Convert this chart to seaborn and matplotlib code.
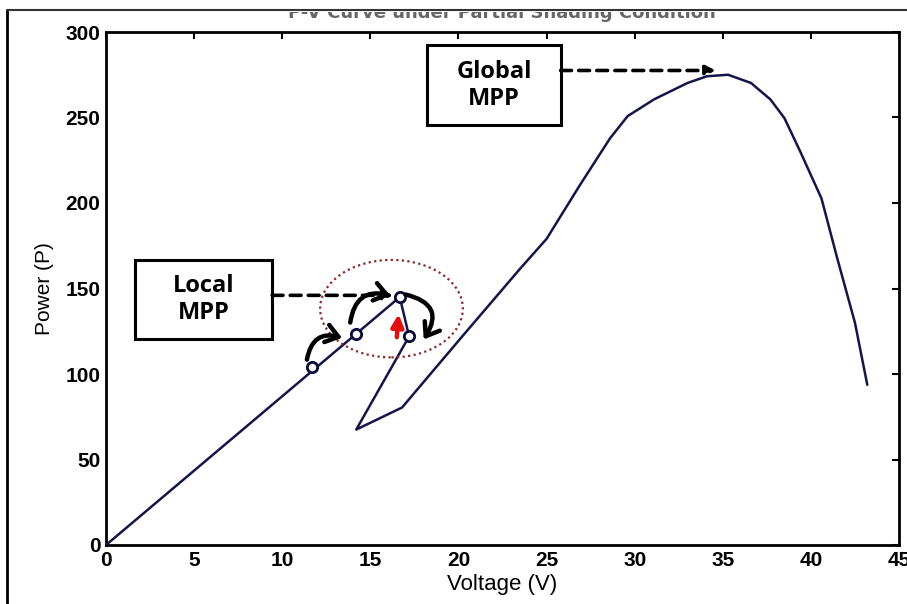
import matplotlib
matplotlib.use("Agg")
import matplotlib.pyplot as plt
import seaborn as sns
import pandas as pd
from matplotlib.patches import Ellipse, Rectangle, FancyArrowPatch

# ---- data ----
title = "P-V Curve under Partial Shading Condition"
voltage = [0, 16.67, 17.2, 14.2, 16.8, 20.1, 23.5, 25.0, 26.9, 28.6, 29.6, 31.1, 33.0,
           34.1, 35.3, 36.6, 37.7, 38.5, 39.4, 40.6, 41.5, 42.5, 43.2]
power = [0, 145, 122, 67.5, 80.4, 120.6, 161.6, 179, 210.6, 237.8, 250.8, 260.6, 270.2,
         274.1, 275, 270.2, 260.6, 249.6, 230, 202.7, 167.5, 130, 93.7]
track_v = [11.7, 14.2, 16.67, 17.2]
track_p = [103.9, 123.5, 145, 122]
x_ticks = [0, 5, 10, 15, 20, 25, 30, 35, 40, 45]
y_ticks = [0, 50, 100, 150, 200, 250, 300]

sns.set_style("white")
tick_font = ["Liberation Sans", "DejaVu Sans"]
plt.rcParams["font.family"] = ["Liberation Sans", "DejaVu Sans"]
plt.rcParams["text.color"] = "black"
plt.rcParams["axes.labelcolor"] = "black"

fig = plt.figure(figsize=(9.07, 6.04), dpi=100)
ax = fig.add_axes([106/907, 1-545/604, (899-106)/907, (545-32)/604])

df = pd.DataFrame({"V": voltage, "P": power})
sns.lineplot(data=df, x="V", y="P", sort=False, ax=ax, color="#15154a", lw=1.8, zorder=3)
tdf = pd.DataFrame({"V": track_v, "P": track_p})
sns.scatterplot(data=tdf, x="V", y="P", ax=ax, s=55, facecolor="white",
                edgecolor="#0a0a3a", linewidth=2, zorder=6)

ax.set_xlim(0, 45)
ax.set_ylim(0, 300)
ax.set_xticks(x_ticks)
ax.set_yticks(y_ticks)
ax.set_xticklabels([str(t) for t in x_ticks], family=tick_font, fontsize=15, fontweight="bold")
ax.set_yticklabels([str(t) for t in y_ticks], family=tick_font, fontsize=15, fontweight="bold")
ax.tick_params(direction="in", length=5, width=1.5, top=True, right=True, pad=4,
               colors="black", labelcolor="black")
for s in ax.spines.values():
    s.set_linewidth(2)
    s.set_color("black")
ax.set_xlabel("Voltage (V)", family=tick_font, fontsize=16, labelpad=3, color="black")
ax.set_ylabel("Power (P)", family=tick_font, fontsize=15, labelpad=8, color="black")

# dotted ellipse around local MPP
ax.add_patch(Ellipse((16.2, 138.2), 8.1, 57, fill=False, ls=(0, (1, 1.5)),
                     lw=1.6, ec="#8b2a2a", zorder=4))

# boxes
for (x0, x1, y0, y1, txt) in [(1.65, 9.43, 120.2, 166.6, "Local\nMPP"),
                              (18.24, 25.8, 245.5, 292.2, "Global\nMPP")]:
    ax.add_patch(Rectangle((x0, y0), x1-x0, y1-y0, fill=True, fc="white",
                           ec="black", lw=2.2, zorder=5))
    ax.text((x0+x1)/2, (y0+y1)/2, txt, ha="center", va="center", fontsize=17,
            fontweight="bold", color="black", family=["Open Sans", "DejaVu Sans"],
            linespacing=1.15, zorder=6)

# dashed arrows
for (xs, xe, y) in [(9.43, 16.3, 146), (25.8, 34.6, 277.5)]:
    ax.annotate("", xy=(xe, y), xytext=(xs, y),
                arrowprops=dict(arrowstyle="-|>", lw=2.6, ls=(0, (3, 2)), color="black",
                                mutation_scale=14, shrinkA=0, shrinkB=0), zorder=7)

# curved tracking arrows
for (p0, p1, rad) in [((11.4, 108.4), (13.4, 121.1), -0.55),
                      ((13.86, 130.1), (16.14, 145.8), -0.55),
                      ((16.99, 146.5), (18.03, 120.2), -0.7)]:
    ax.add_patch(FancyArrowPatch(p0, p1, connectionstyle=f"arc3,rad={rad}",
                                 arrowstyle="->,head_length=0.55,head_width=0.4",
                                 mutation_scale=16, lw=3.2, color="black", zorder=7,
                                 shrinkA=0, shrinkB=0))

# red arrow
ax.add_patch(FancyArrowPatch((16.5, 121.5), (16.6, 135.0), arrowstyle="-|>",
                             mutation_scale=18, lw=3.2, color="#e01010", zorder=7,
                             shrinkA=0, shrinkB=0))

# title, of which only the lower part shows below the frame
fig.text(502/907, 1-13/604, title, ha="center", va="center", fontsize=13,
         fontweight="bold", color="#666666", family=["DejaVu Sans"], zorder=1)
fig.add_artist(Rectangle((0, 1-11.5/604), 1, 11.5/604, transform=fig.transFigure,
                         fc="white", ec="none", zorder=8))

# outer frame lines
fig.add_artist(plt.Line2D([7/907, 7/907], [0, 1-9.5/604], transform=fig.transFigure,
                          color="black", lw=2, zorder=9))
fig.add_artist(plt.Line2D([7/907, 1], [1-9.5/604, 1-9.5/604], transform=fig.transFigure,
                          color="#333333", lw=1.5, zorder=9))

fig.savefig("out.png", dpi=100)
